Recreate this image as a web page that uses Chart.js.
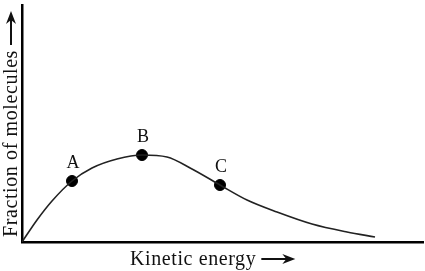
<!DOCTYPE html>
<html>
<head>
<meta charset="utf-8">
<script src="https://cdn.jsdelivr.net/npm/chart.js@4"></script>
<style>
  html, body { margin: 0; padding: 0; background: #fff; }
  #wrap { width: 425px; height: 271px; }
</style>
</head>
<body>
<div id="wrap"><canvas id="mbChart"></canvas></div>
<script>
// curve (energy, fraction)
const energy = [0, 15, 30, 50, 70, 95, 120, 145, 170, 198, 225, 255, 290, 325, 353];
const fraction = [0, 22, 41, 61, 74, 83, 87, 85, 73, 57, 42, 30, 18, 10, 5];

const pointLabels = ["A", "B", "C"];
const pointEnergy = [50, 120, 198];
const pointFraction = [61, 87, 57];

const xTitle = "Kinetic energy";
const yTitle = "Fraction of molecules";

const serif = "'Liberation Serif', 'DejaVu Serif', serif";

function arrow(ctx, x, y, len) {
  // horizontal arrow pointing right, starting at x
  ctx.beginPath();
  ctx.moveTo(x, y);
  ctx.lineTo(x + len - 8, y);
  ctx.lineWidth = 2;
  ctx.stroke();
  ctx.beginPath();
  ctx.moveTo(x + len, y);
  ctx.lineTo(x + len - 13, y - 5);
  ctx.lineTo(x + len - 9, y);
  ctx.lineTo(x + len - 13, y + 5);
  ctx.closePath();
  ctx.fill();
}

const textPlugin = {
  id: "texts",
  afterDatasetsDraw(chart) {
    const ctx = chart.ctx;
    const meta = chart.getDatasetMeta(1);
    ctx.save();
    ctx.fillStyle = "#111";
    ctx.strokeStyle = "#111";
    ctx.font = "18px " + serif;
    ctx.textAlign = "center";
    ctx.textBaseline = "middle";
    meta.data.forEach((pt, i) => {
      ctx.fillText(pointLabels[i], pt.x + 1, pt.y - 18);
    });

    ctx.font = "20px " + serif;
    ctx.letterSpacing = "0.6px";
    ctx.textAlign = "left";
    ctx.textBaseline = "alphabetic";
    ctx.fillText(xTitle, 130, 265);
    const w = ctx.measureText(xTitle).width;
    arrow(ctx, 130 + w + 5, 259, 34);

    ctx.translate(17, 237);
    ctx.rotate(-Math.PI / 2);
    ctx.fillText(yTitle, 0, 0);
    const wy = ctx.measureText(yTitle).width;
    arrow(ctx, wy + 5, -6, 34);
    ctx.restore();
  },
};

new Chart(document.getElementById("mbChart"), {
  type: "scatter",
  data: {
    datasets: [
      {
        data: energy.map((x, i) => ({ x, y: fraction[i] })),
        showLine: true,
        borderColor: "#222",
        borderWidth: 1.6,
        pointRadius: 0,
        cubicInterpolationMode: "monotone",
      },
      {
        data: pointEnergy.map((x, i) => ({ x, y: pointFraction[i] })),
        pointRadius: 5.5,
        pointBackgroundColor: "#000",
        pointBorderColor: "#000",
      },
    ],
  },
  options: {
    responsive: true,
    maintainAspectRatio: false,
    animation: false,
    layout: { autoPadding: false, padding: { top: 5, right: 2, left: 22, bottom: 29 } },
    plugins: {
      legend: { display: false },
      tooltip: { enabled: false },
    },
    scales: {
      x: {
        type: "linear",
        min: 0,
        max: 401,
        grid: { display: false, drawTicks: false },
        border: { color: "#000", width: 2.5 },
        ticks: { display: false },
      },
      y: {
        min: 0,
        max: 237,
        grid: { display: false, drawTicks: false },
        border: { color: "#000", width: 2.5 },
        ticks: { display: false },
      },
    },
  },
  plugins: [textPlugin],
});
</script>
</body>
</html>
